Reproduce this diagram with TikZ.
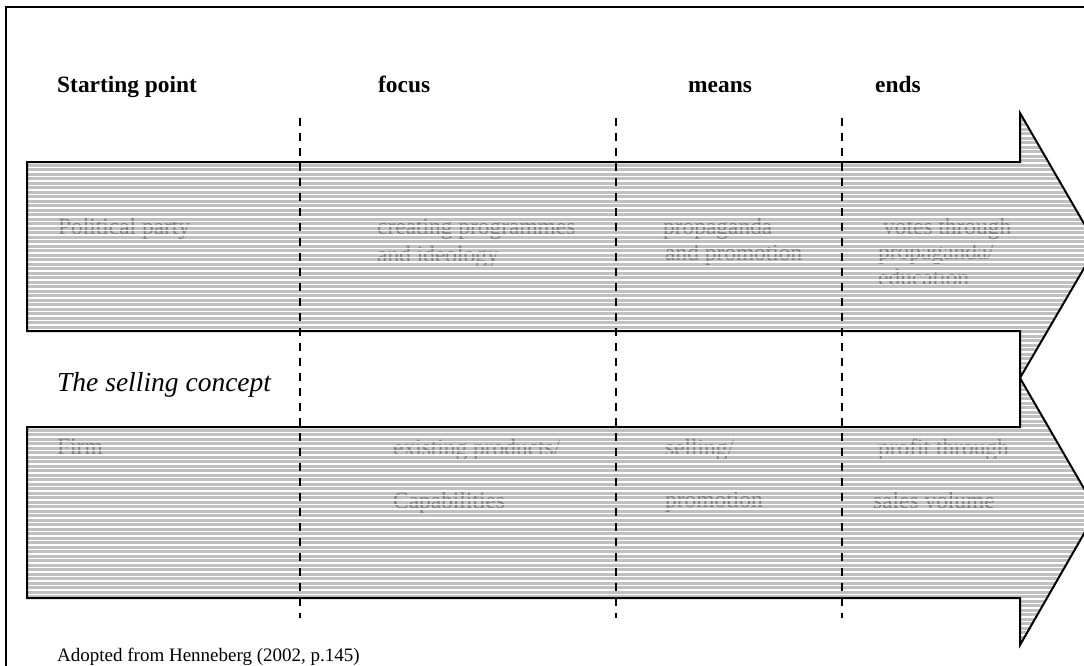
\documentclass[tikz,border=0pt]{standalone}
\usepackage{fontspec}
\setmainfont{Liberation Serif}
\definecolor{hatchgrey}{HTML}{C0C0C0}
\tikzset{
  hdr/.style={anchor=base west, inner sep=0, font=\fontsize{23.4}{28}\selectfont\bfseries},
  cell/.style={anchor=base west, inner sep=0, text=black!50, font=\fontsize{23.4}{28}\selectfont},
  note/.style={anchor=base west, inner sep=0, font=\fontsize{19}{23}\selectfont},
  divider/.style={line width=2pt, dash pattern=on 8pt off 7pt},
  outline/.style={line width=2pt, line join=miter},
}
\begin{document}
\begin{tikzpicture}[x=1pt, y=-1pt]
\useasboundingbox (0,0) rectangle (1084,666);
\clip (0,0) rectangle (1084,666);

% outer frame
\draw[line width=1.3pt] (6,7) rectangle (1110,690);

% arrow outlines
\def\arrowA{(27,162) -- (1020,162) -- (1020,113) -- (1097,246) -- (1020,378) -- (1020,331) -- (27,331) -- cycle}
\def\arrowB{(27,427) -- (1020,427) -- (1020,378) -- (1097,511) -- (1020,645) -- (1020,598) -- (27,598) -- cycle}

\fill[hatchgrey] \arrowA;
\fill[hatchgrey] \arrowB;

% column headings
\node[hdr] (h1) at (57,93) {Starting point};
\node[hdr] (h2) at (378,93) {focus};
\node[hdr] (h3) at (688,93) {means};
\node[hdr] (h4) at (875,93) {ends};

% upper arrow texts
\node[cell] (a1) at (58,234) {Political party};
\node[cell] (a2) at (377,234) {creating programmes};
\node[cell] (a2b) at (377,262) {and ideology};
\node[cell] (a3) at (663,234) {propaganda};
\node[cell] (a3b) at (665,260) {and promotion};
\node[cell] (a4) at (883,234) {votes through};
\node[cell] (a4b) at (878,259) {propaganda/};
\node[cell] (a4c) at (878,285) {education};

% lower arrow texts
\node[cell] (b1) at (57,454) {Firm};
\node[cell] (b2) at (393,455) {existing products/};
\node[cell] (b2b) at (393,508) {Capabilities};
\node[cell] (b3) at (665,455) {selling/};
\node[cell] (b3b) at (665,507) {promotion};
\node[cell] (b4) at (878,455) {profit through};
\node[cell] (b4b) at (873,508) {sales volume};

% horizontal hatching over the arrows
\begin{scope}
  \clip \arrowA;
  \foreach \y in {113.5,118,...,380} \draw[white, line width=1.1pt] (20,\y) -- (1100,\y);
\end{scope}
\begin{scope}
  \clip \arrowB;
  \foreach \y in {378.5,383,...,648} \draw[white, line width=1.1pt] (20,\y) -- (1100,\y);
\end{scope}

\draw[outline] \arrowA;
\draw[outline] \arrowB;

% column dividers
\coordinate (d1t) at (300,118); \coordinate (d1b) at (300,618);
\coordinate (d2t) at (616,118); \coordinate (d2b) at (616,618);
\coordinate (d3t) at (842,118); \coordinate (d3b) at (842,618);
\draw[divider] (d1t) -- (d1b);
\draw[divider] (d2t) -- (d2b);
\draw[divider] (d3t) -- (d3b);

\node[note, font=\fontsize{27.5}{32}\selectfont\itshape] (sel) at (57,391) {The selling concept};
\node[note] (src) at (57,661) {Adopted from Henneberg (2002, p.145)};
\end{tikzpicture}
\end{document}
